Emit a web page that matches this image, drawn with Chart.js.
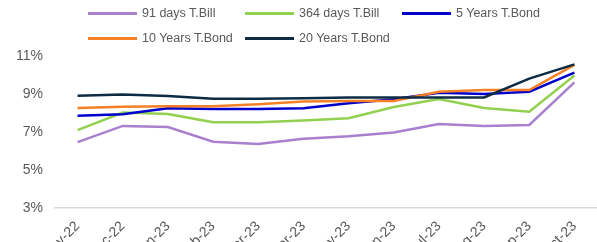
<!DOCTYPE html>
<html>
<head>
<meta charset="utf-8">
<script src="https://cdn.jsdelivr.net/npm/chart.js@4/dist/chart.umd.min.js"></script>
<style>
  html, body { margin: 0; padding: 0; background: #fff; overflow: hidden; }
  #wrap { position: relative; width: 597px; height: 242px; overflow: hidden; }
  #box { position: absolute; left: 0; top: 0; width: 605px; height: 262px; }
  #legend { position: absolute; left: 0; top: 0; width: 597px; height: 50px; font-family: 'Liberation Sans', Arial, sans-serif; font-size: 12.5px; color: #595959; }
  .item { position: absolute; display: flex; align-items: center; height: 16px; white-space: nowrap; }
  .swatch { width: 49px; height: 3px; margin-right: 5px; }
</style>
</head>
<body>
<div id="wrap">
  <div id="box"><canvas id="myChart1"></canvas></div>
  <div id="legend"></div>
</div>
<script>
'use strict';

var months = ['Nov-22', 'Dec-22', 'Jan-23', 'Feb-23', 'Mar-23', 'Apr-23', 'May-23', 'Jun-23', 'Jul-23', 'Aug-23', 'Sep-23', 'Oct-23'];
var seriesNames = ['91 days T.Bill', '364 days T.Bill', '5 Years T.Bond', '10 Years T.Bond', '20 Years T.Bond'];
var tbill91 = [6.47, 7.32, 7.26, 6.49, 6.37, 6.65, 6.77, 6.97, 7.42, 7.32, 7.37, 9.61];
var tbill364 = [7.10, 8.02, 7.95, 7.51, 7.51, 7.60, 7.72, 8.32, 8.74, 8.26, 8.07, 9.97];
var bond5 = [7.86, 7.93, 8.25, 8.21, 8.21, 8.25, 8.51, 8.72, 9.07, 9.00, 9.12, 10.12];
var bond10 = [8.26, 8.33, 8.35, 8.35, 8.46, 8.61, 8.63, 8.63, 9.12, 9.21, 9.21, 10.53];
var bond20 = [8.91, 8.98, 8.89, 8.75, 8.75, 8.77, 8.82, 8.82, 8.82, 8.82, 9.81, 10.56];
var yTicks = [3, 5, 7, 9, 11];

var colors = ['#A980CF', '#92D050', '#0000CC', '#F58025', '#0D2C44'];
var values = [tbill91, tbill364, bond5, bond10, bond20];

var datasets = values.map(function (v, i) {
  return {
    label: seriesNames[i],
    data: v,
    borderColor: colors[i],
    backgroundColor: colors[i],
    borderWidth: 2.5,
    pointRadius: 0,
    tension: 0,
    order: values.length - i
  };
});

var ctx = document.getElementById('myChart1').getContext('2d');
var myChart = new Chart(ctx, {
  type: 'line',
  data: { labels: months, datasets: datasets },
  options: {
    responsive: true,
    maintainAspectRatio: false,
    animation: false,
    layout: { padding: { top: 56, right: 8, left: 0, bottom: 0 } },
    plugins: {
      legend: { display: false },
      tooltip: { enabled: false }
    },
    scales: {
      x: {
        offset: true,
        grid: { display: false, drawTicks: false },
        border: { display: true, color: '#D9D9D9', width: 1.5 },
        ticks: {
          padding: 10,
          minRotation: 45,
          maxRotation: 45,
          autoSkip: false,
          color: '#595959',
          font: { family: 'Liberation Sans', size: 14 }
        },
        afterFit: function (scale) { scale.height = 262 - 208; }
      },
      y: {
        min: 3,
        max: 11,
        afterBuildTicks: function (scale) {
          scale.ticks = yTicks.map(function (v) { return { value: v }; });
        },
        grid: { display: false, drawTicks: false },
        border: { display: false },
        ticks: {
          padding: 12,
          color: '#595959',
          font: { family: 'Liberation Sans', size: 14 },
          callback: function (value) { return value + '%'; }
        },
        afterFit: function (scale) { scale.width = 55; }
      }
    }
  }
});

// legend laid out in fixed columns like the original
var legend = document.getElementById('legend');
seriesNames.forEach(function (name, i) {
  var item = document.createElement('div');
  item.className = 'item';
  item.style.left = (88 + (i % 3) * 157) + 'px';
  item.style.top = (5 + Math.floor(i / 3) * 25) + 'px';
  var sw = document.createElement('span');
  sw.className = 'swatch';
  sw.style.background = colors[i];
  var tx = document.createElement('span');
  tx.textContent = name;
  item.appendChild(sw);
  item.appendChild(tx);
  legend.appendChild(item);
});
</script>
</body>
</html>
